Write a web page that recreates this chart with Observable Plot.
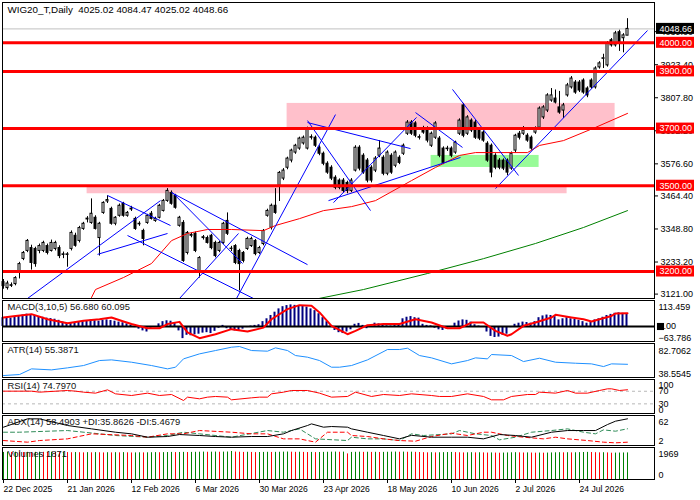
<!DOCTYPE html>
<html><head><meta charset="utf-8">
<script src="https://cdn.jsdelivr.net/npm/d3@7"></script>
<script src="https://cdn.jsdelivr.net/npm/@observablehq/plot@0.6"></script>
<style>
body{margin:0;background:#fff;}
#wrap{position:relative;width:700px;height:500px;overflow:hidden;background:#fff;}
</style></head><body><div id="wrap"></div>
<script>
// ---------- DATA ----------
const symbol = "WIG20_T";
const timeframe = "Daily";
const opens = [3163,3142,3152,3156,3195,3244,3272,3282,3279,3272,
3272,3289,3272,3279,3282,3260,3258,3279,3325,3307,
3349,3382,3370,3388,3317,3405,3445,3419,3367,3395,
3437,3395,3417,3384,3367,3342,3370,3402,3377,3388,
3412,3447,3475,3465,3360,3370,3265,3325,3332,3202,
3317,3317,3325,3300,3272,3300,3377,3280,3289,3272,
3265,3279,3289,3307,3265,3296,3395,3353,3430,3500,
3525,3563,3588,3616,3630,3648,3630,3670,3668,3633,
3612,3577,3563,3528,3518,3518,3510,3482,3553,3633,
3605,3588,3563,3553,3605,3598,3542,3605,3570,3598,
3612,3682,3721,3718,3670,3700,3700,3640,3668,3665,
3630,3630,3630,3616,3682,3781,3682,3728,3721,3693,
3686,3647,3640,3605,3588,3588,3588,3560,3623,3682,
3682,3675,3668,3686,3703,3739,3763,3798,3805,3774,
3763,3816,3844,3861,3861,3868,3840,3868,3844,3914,
3944,3921,4009,3991,4037,4016,4025.02];
const highs = [3172,3166,3160,3182,3232,3270,3312,3292,3285,3296,
3306,3296,3310,3306,3290,3268,3266,3342,3334,3358,
3372,3392,3454,3395,3372,3444,3465,3425,3392,3436,
3442,3410,3428,3390,3374,3348,3400,3410,3390,3435,
3452,3490,3482,3470,3393,3378,3340,3334,3338,3252,
3326,3324,3330,3306,3305,3372,3405,3288,3294,3278,
3270,3320,3320,3312,3288,3347,3418,3436,3490,3550,
3560,3600,3628,3645,3670,3674,3705,3678,3674,3640,
3618,3584,3570,3535,3524,3525,3516,3525,3640,3640,
3612,3595,3570,3602,3658,3605,3622,3612,3622,3605,
3646,3728,3728,3724,3678,3708,3706,3688,3724,3672,
3636,3638,3636,3656,3734,3788,3745,3734,3728,3700,
3692,3654,3646,3612,3595,3594,3594,3618,3680,3690,
3707,3682,3674,3706,3776,3780,3822,3840,3835,3830,
3788,3858,3882,3868,3868,3874,3846,3874,3916,3934,
3960,4004,4015,4040,4044,4032,4084.47];
const lows = [3138,3135,3144,3150,3174,3238,3266,3205,3215,3262,
3266,3258,3268,3272,3245,3245,3215,3272,3285,3300,
3344,3370,3365,3345,3254,3400,3438,3362,3360,3390,
3390,3390,3410,3344,3358,3290,3365,3380,3372,3384,
3408,3442,3432,3418,3355,3232,3258,3318,3266,3177,
3310,3296,3276,3248,3266,3295,3326,3270,3224,3132,
3230,3274,3284,3255,3260,3290,3390,3345,3400,3445,
3518,3556,3580,3610,3624,3642,3625,3660,3634,3605,
3570,3540,3518,3486,3486,3474,3472,3476,3548,3552,
3540,3510,3510,3546,3598,3535,3535,3540,3563,3574,
3606,3676,3676,3668,3660,3680,3650,3634,3662,3598,
3574,3620,3598,3610,3676,3668,3676,3686,3662,3658,
3652,3582,3528,3556,3556,3553,3535,3554,3616,3660,
3676,3652,3624,3680,3698,3732,3756,3792,3786,3750,
3735,3810,3838,3820,3826,3820,3808,3838,3838,3908,
3910,3915,3985,3985,3970,3965,4025.02];
const closes = [3149,3158,3150,3177,3226,3265,3307,3230,3226,3289,
3300,3265,3300,3300,3254,3258,3260,3335,3290,3352,
3367,3385,3402,3349,3367,3440,3450,3367,3388,3430,
3395,3405,3420,3349,3365,3314,3395,3384,3384,3430,
3447,3482,3437,3423,3388,3237,3335,3328,3272,3247,
3320,3300,3282,3254,3300,3367,3332,3279,3230,3226,
3237,3314,3314,3261,3282,3342,3412,3430,3405,3545,
3553,3595,3623,3640,3665,3668,3700,3668,3640,3612,
3577,3546,3525,3493,3493,3482,3482,3518,3633,3560,
3546,3518,3518,3595,3630,3542,3616,3546,3616,3580,
3640,3721,3682,3675,3668,3686,3658,3682,3718,3605,
3580,3628,3605,3651,3728,3675,3739,3693,3668,3665,
3658,3588,3546,3563,3563,3560,3546,3612,3675,3668,
3693,3658,3630,3700,3770,3774,3816,3816,3791,3756,
3781,3851,3875,3826,3833,3826,3816,3844,3910,3928,
3946,3998,3991,4033,3998,4026,4048.66];
const volumes = [1902,1915,1903,1918,1906,1894,1910,1897,1909,1922,
1911,1899,1913,1902,1890,1905,1893,1881,1896,1884,
1873,1888,1876,1891,1880,1868,1884,1872,1887,1875,
1890,1878,1866,1872,1879,1871,1878,1884,1891,1882,
1889,1896,1903,1893,1900,1907,1897,1904,1911,1918,
1925,1914,1921,1928,1917,1924,1931,1969,1927,1916,
1905,1913,1902,1891,1898,1905,1912,1902,1909,1916,
1923,1930,1920,1909,1917,1906,1895,1903,1892,1900,
1907,1914,1921,1928,1917,1924,1800,1905,1912,1919,
1908,1915,1904,1911,1900,1907,1914,1921,1928,1917,
1924,1913,1920,1909,1898,1887,1876,1884,1873,1881,
1888,1895,1902,1891,1880,1869,1877,1884,1873,1881,
1870,1860,1868,1858,1850,1859,1868,1877,1886,1875,
1864,1872,1861,1852,1860,1851,1859,1868,1877,1886,
1875,1883,1872,1880,1889,1898,1907,1896,1885,1874,
1882,1871,1850,1856,1861,1866,1871];
const macdHist = [40,38,38,42,46,52,56,54,50,45,
42,38,36,33,28,20,16,14,15,20,
24,27,29,26,24,28,30,27,24,20,
17,12,6,-5,-12,-20,-25,-8,-3,12,
22,26,24,14,-20,-55,-40,-42,-38,-35,
-30,-28,-32,-22,-8,5,-10,-15,-20,-18,
-12,-5,2,5,8,22,35,50,65,80,
90,95,98,96,95,92,88,80,72,58,
40,22,5,-18,-28,-32,-25,-15,10,14,
5,-10,2,15,12,5,3,2,4,8,
35,42,45,40,38,10,5,3,-8,-15,
-18,-12,-5,15,25,30,28,20,8,2,
-3,-25,-45,-50,-48,-40,-35,-5,10,15,
20,18,15,22,40,48,52,50,45,30,
35,40,35,32,28,22,15,18,30,35,
42,50,55,60,62,60,56.68];
const signalIdx = [0,3,7,11,16,20,24,27,30,32,36,39,41,44,46,49,53,57,61,65,67,71,74,77,79,82,86,88,91,95,99,103,107,111,114,117,120,123,126,127,130,133,137,138,142,145,147,149,152,153,156];
const signalVal = [41,48,56,33,15,26,33,41,23,11,-8,-8,11,21,-27,-53,-35,-12,-23,-5,33,79,97,94,64,3,-35,-20,6,11,11,33,18,-8,-8,18,18,-20,-42,-35,3,18,41,53,41,33,23,33,48,59,60.095];
const atrIdx = [0,4,7,12,16,20,24,27,32,37,41,43,45,49,53,57,59,62,66,68,71,73,76,79,82,84,87,91,96,99,101,104,107,112,116,118,121,122,127,130,134,138,143,147,150,152,156];
const atrVal = [39.9,41.3,49.1,47.7,50.5,53.7,60.6,61.5,58.3,53.7,49.1,51.4,62.9,69.8,74.4,79,79.9,74.4,73.5,78.1,74.4,67.5,65.2,60.6,51.4,51.4,53.7,61.5,75.8,75.8,77.6,67.5,64.3,56,60.6,64.3,62.9,68.9,67.5,59.2,63.8,58.3,56.9,56,52.3,56,55.3871];
const rsiIdx = [0,7,9,16,18,20,23,26,28,32,36,39,42,45,46,49,51,53,56,57,62,64,66,67,70,72,76,79,82,86,88,92,95,99,102,107,109,112,116,120,122,125,127,131,133,134,138,141,143,146,149,151,152,154,156];
const rsiVal = [70.3,70.3,67.1,72.4,70.3,67.1,64,74.5,61.8,56.5,64,56.5,59.7,40.7,51.3,46,51.3,53.4,51.3,42.8,49.1,51.3,51.3,61.8,67.1,72.4,72.4,64,51.3,53.4,67.1,53.4,59.7,56.5,61.8,56.5,53.4,53.4,61.8,53.4,42.8,42.8,53.4,59.7,59.7,67.1,64,72.4,64,64,72.4,77.7,77.7,72.4,74.797];
const adxIdx = [0,6,9,16,22,28,32,36,41,44,49,53,57,62,66,70,72,76,77,80,82,86,87,91,95,99,102,107,112,116,120,124,128,132,137,141,145,148,151,153,156];
const adxVal = [39.5,58.4,58.4,43.3,35.7,28.1,24.4,16.8,18.3,22.8,20.6,18.3,16.8,18.3,18.3,24.4,31.9,43.3,47,39.5,41,39.5,35.7,28.1,20.6,13,21,16.8,16.8,16.8,13,22.8,20.6,16.8,28.1,31.9,31.9,31.9,45.5,53.1,58.4903];
const pdiIdx = [0,4,16,24,28,36,41,45,49,57,66,70,74,78,86,87,91,95,99,102,105,112,114,118,122,124,128,132,137,141,145,148,150,153,156];
const pdiVal = [28.1,28.1,31.9,24.4,20.6,16.8,20.6,28.1,24.4,16.8,31.9,28.1,35.7,13,9.2,16.8,13,13,9.2,24.4,20.6,24.4,31.9,24.4,20.6,10.8,16.8,28.1,31.9,35.7,28.1,24.4,33.4,30.4,35.8626];
const mdiIdx = [0,6,9,16,22,32,36,41,45,49,57,62,66,70,74,78,81,86,87,91,95,99,103,107,112,116,120,122,126,130,135,138,141,146,150,153,156];
const mdiVal = [9.2,5.5,9.2,13,24.4,20.6,16.8,24.4,24.4,31.9,28.1,24.4,24.4,13,13,5.5,28.1,28.1,20.6,18.3,13,9.2,7.7,18.3,25.9,20.6,28.1,28.1,20.6,16.8,13,16.8,13,9.2,5.5,4,5.4679];
const maRedIdx = [22,23,30,37,42,46,51,57,65,68,74,80,87,93,102,108,114,118,131,134,140,148,156];
const maRedVal = [3109,3137,3179,3228,3308,3333,3347,3347,3343,3361,3385,3413,3427,3448,3518,3564,3606,3616,3616,3641,3658,3704,3753];
const maGreenIdx = [79,90,106,120,133,145,156];
const maGreenVal = [3106,3137,3193,3245,3298,3354,3413];
const levels = [4000, 3900, 3700, 3500, 3200];
const priceTicks = [3121.00, 3233.20, 3348.80, 3464.40, 3576.60, 3692.20, 3807.80, 3923.40, 4039.00];
const pinkZones = [[70.9, 152.9, 3698, 3788], [20.9, 140.9, 3472, 3500]];
const greenZones = [[106.9, 133.9, 3564, 3606]];
const trendLines = [
 [6, 3105.6, 39.25, 3448], [26, 3466, 41.75, 3361], [23.5, 3260, 41, 3333],
 [31, 3326, 62.5, 3105.6], [42, 3476, 76, 3224], [42.25, 3476, 59.75, 3228],
 [44, 3105.6, 58.75, 3333], [58.25, 3105.6, 83, 3749], [76, 3721, 101.75, 3630],
 [76, 3728, 91.75, 3413], [81.25, 3448, 114.25, 3599], [82.5, 3441, 103.25, 3739],
 [112.25, 3837, 128.75, 3536], [103, 3756, 114.75, 3634], [123, 3490, 161, 4043]
];
const dateTicks = [0,16,32,48,64,80,96,112,128,144];
const dateLabels = ["22 Dec 2025","21 Jan 2026","12 Feb 2026","6 Mar 2026","30 Mar 2026","23 Apr 2026","18 May 2026","10 Jun 2026","2 Jul 2026","24 Jul 2026"];
const macdRange = [113.459, -63.786];
const atrRange = [82.7062, 38.5545];
const rsiLevels = [100, 70, 30, 0];
const adxRange = [62, 2];
const volRange = [1969, 0];

// ---------- LAYOUT ----------
const FONT = '"Liberation Sans", Arial, sans-serif';
const wrap = document.getElementById("wrap");
const X_DOMAIN = [-0.25, 162.75];
const X_END = X_DOMAIN[1];
const fmt2 = d3.format(".2f");
const last = closes.length - 1;
const bars = closes.map((c, i) => ({i, open: opens[i], high: highs[i], low: lows[i], close: c}));
const pairs = (idx, val) => idx.map((d, k) => ({i: d, v: val[k]}));

function panel(top, bottom, yDomain, marks, extraBottom = 0) {
  const svg = Plot.plot({
    width: 700, height: bottom - top + 2 + extraBottom,
    marginLeft: 2, marginRight: 46, marginTop: 1, marginBottom: 1 + extraBottom,
    x: {domain: X_DOMAIN, axis: null},
    y: {domain: yDomain, axis: null},
    style: {background: "transparent", fontFamily: FONT, fontSize: "9px", overflow: "visible"},
    marks
  });
  svg.style.position = "absolute";
  svg.style.left = "0px";
  svg.style.top = (top - 1) + "px";
  wrap.appendChild(svg);
}
const nameLabel = (t) => Plot.text([t], {frameAnchor: "top-left", dx: 5, dy: 3, lineAnchor: "top", fontSize: 9.4, fill: "#111"});
const sideTop = (vals, fmt, dy = 2) => Plot.text(vals, {x: () => X_END, y: d => d, text: fmt, dx: 4, dy, textAnchor: "start", lineAnchor: "top", fontSize: 9});
const sideBottom = (vals, fmt, dy = 0) => Plot.text(vals, {x: () => X_END, y: d => d, text: fmt, dx: 4, dy, textAnchor: "start", lineAnchor: "bottom", fontSize: 9});
const sideMid = (vals, fmt) => Plot.text(vals, {x: () => X_END, y: d => d, text: fmt, dx: 4, textAnchor: "start", fontSize: 9});

// ---------- MAIN PRICE PANEL ----------
const mainDomain = [3105.6, 4141.0];
const pxUnit = (mainDomain[1] - mainDomain[0]) / 296;
const BOX = 5.5 * pxUnit;
const title = `${symbol},${timeframe}\u00a0 ${fmt2(opens[last])} ${fmt2(highs[last])} ${fmt2(lows[last])} ${fmt2(closes[last])}`;
panel(2, 298, mainDomain, [
  Plot.rect(pinkZones, {x1: d => d[0], x2: d => d[1], y1: d => d[2], y2: d => d[3], fill: "#ffc0cb"}),
  Plot.rect(greenZones, {x1: d => d[0], x2: d => d[1], y1: d => d[2], y2: d => d[3], fill: "#98fb98"}),
  Plot.ruleY([closes[last]], {stroke: "#c0c0c0", strokeWidth: 1}),
  Plot.ruleX(bars, {x: "i", y1: "low", y2: "high", stroke: "black", strokeWidth: 1}),
  Plot.rect(bars, {x1: d => d.i - 0.25, x2: d => d.i + 0.25, y1: "open", y2: "close",
    fill: d => d.close >= d.open ? "white" : "black", stroke: "black", strokeWidth: 1}),
  Plot.line(pairs(maRedIdx, maRedVal), {x: "i", y: "v", stroke: "red", strokeWidth: 1, clip: true}),
  Plot.line(pairs(maGreenIdx, maGreenVal), {x: "i", y: "v", stroke: "green", strokeWidth: 1, clip: true}),
  Plot.link(trendLines, {x1: d => d[0], y1: d => d[1], x2: d => d[2], y2: d => d[3], stroke: "blue", strokeWidth: 1, clip: true}),
  Plot.ruleY(levels, {stroke: "red", strokeWidth: 3}),
  Plot.text([title], {frameAnchor: "top-left", dx: 5, dy: 4, lineAnchor: "top", fontSize: 9.8, fill: "black"}),
  Plot.axisY(priceTicks, {anchor: "right", tickSize: 3, tickPadding: 3, tickFormat: fmt2, fontSize: 9, label: null}),
  Plot.rect(levels, {x1: () => X_END + 0.5, x2: () => X_END + 10, y1: d => d - BOX, y2: d => d + BOX, fill: "red"}),
  Plot.text(levels, {x: () => X_END, y: d => d, text: fmt2, dx: 5, textAnchor: "start", fill: "white", fontSize: 9}),
  Plot.rect([closes[last]], {x1: () => X_END + 0.5, x2: () => X_END + 10, y1: d => d - BOX, y2: d => d + BOX, fill: "black"}),
  Plot.text([closes[last]], {x: () => X_END, y: d => d, text: fmt2, dx: 5, textAnchor: "start", fill: "white", fontSize: 9}),
  Plot.frame({stroke: "black"})
]);

// ---------- MACD ----------
const macdBars = macdHist.map((v, i) => ({i, v}));
panel(300, 341, [-68.1, 118], [
  Plot.rect(macdBars, {x1: d => d.i - 0.375, x2: d => d.i + 0.125, y1: () => 0, y2: "v", fill: "#000080"}),
  nameLabel(`MACD(3,10,5) ${d3.format(".3f")(macdHist[last])} ${d3.format(".3f")(signalVal[signalVal.length - 1])}`),
  Plot.ruleY([0], {stroke: "black", strokeWidth: 2}),
  Plot.line(pairs(signalIdx, signalVal), {x: "i", y: "v", stroke: "red", strokeWidth: 2}),
  Plot.dot([0], {x: () => X_END, y: d => d, dx: 6, symbol: "square", r: 4, fill: "black"}),
  sideTop([macdRange[0]], d3.format(".3f")),
  sideMid([0], fmt2),
  sideBottom([macdRange[1]], d3.format(".3f")),
  Plot.frame({stroke: "black"})
]);

// ---------- ATR ----------
panel(343, 377, [37.2, 84.1], [
  nameLabel(`ATR(14) ${d3.format(".4f")(atrVal[atrVal.length - 1])}`),
  Plot.line(pairs(atrIdx, atrVal), {x: "i", y: "v", stroke: "#1e90ff", strokeWidth: 1}),
  sideTop([atrRange[0]], d3.format(".4f"), 3),
  sideBottom([atrRange[1]], d3.format(".4f")),
  Plot.frame({stroke: "black"})
]);

// ---------- RSI ----------
panel(379, 413, [-0.6, 107.3], [
  Plot.ruleY([70, 30], {stroke: "#b8b8b8", strokeWidth: 1, strokeDasharray: "3,3"}),
  nameLabel(`RSI(14) ${d3.format(".4f")(rsiVal[rsiVal.length - 1])}`),
  Plot.line(pairs(rsiIdx, rsiVal), {x: "i", y: "v", stroke: "red", strokeWidth: 1}),
  sideTop([rsiLevels[0]], d3.format("d"), 0),
  sideMid([rsiLevels[1], rsiLevels[2]], d3.format("d")),
  sideBottom([rsiLevels[3]], d3.format("d")),
  Plot.frame({stroke: "black"})
]);

// ---------- ADX ----------
panel(415, 445, [-2.05, 66], [
  nameLabel(`ADX(14) ${d3.format(".4f")(adxVal[adxVal.length - 1])} +DI:${d3.format(".4f")(pdiVal[pdiVal.length - 1])} -DI:${d3.format(".4f")(mdiVal[mdiVal.length - 1])}`),
  Plot.line(pairs(pdiIdx, pdiVal), {x: "i", y: "v", stroke: "#2e8b57", strokeWidth: 1, strokeDasharray: "4,3"}),
  Plot.line(pairs(mdiIdx, mdiVal), {x: "i", y: "v", stroke: "red", strokeWidth: 1, strokeDasharray: "4,3"}),
  Plot.line(pairs(adxIdx, adxVal), {x: "i", y: "v", stroke: "black", strokeWidth: 1}),
  sideTop([adxRange[0]], d3.format("d"), 1),
  sideBottom([adxRange[1]], d3.format("d")),
  Plot.frame({stroke: "black"})
]);

// ---------- VOLUMES + DATE AXIS ----------
const volBars = volumes.map((v, i) => ({i, v, up: i === 0 || v > volumes[i - 1]}));
panel(447, 479, [0, 2250], [
  Plot.ruleX(volBars, {x: "i", y1: () => 0, y2: "v", strokeWidth: 1, stroke: d => d.up ? "#008000" : "#ff0000"}),
  nameLabel(`Volumes ${volumes[last]}`),
  sideTop([volRange[0]], d3.format("d"), -1),
  sideBottom([volRange[1]], d3.format("d"), -2),
  Plot.axisX(dateTicks, {anchor: "bottom", tickSize: 4, tickPadding: 2, textAnchor: "start",
    tickFormat: d => dateLabels[dateTicks.indexOf(d)], fontSize: 8.6, label: null}),
  Plot.frame({stroke: "black"})
], 20);
</script>
</body></html>
